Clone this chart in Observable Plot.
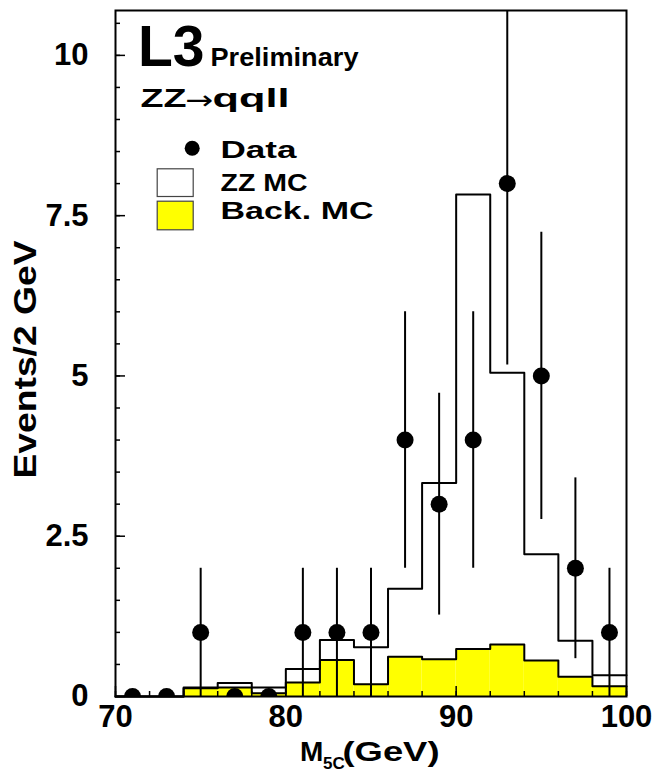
<!DOCTYPE html>
<html><head><meta charset="utf-8">
<script src="https://cdn.jsdelivr.net/npm/d3@7"></script>
<script src="https://cdn.jsdelivr.net/npm/@observablehq/plot@0.6"></script>
<style>body{margin:0;background:#fff} svg{display:block}</style>
</head><body><div id="chart"></div>
<script>
// ---- data ----
const binEdges   = [70,72,74,76,78,80,82,84,86,88,90,92,94,96,98,100];
const binCenters = [71,73,75,77,79,81,83,85,87,89,91,93,95,97,99];
const dataCounts = [0,0,1,0,0,1,1,1,4,3,4,8,5,2,1];
const dataErrors = [0,0,1,0,0,1,1,1,2,1.73,2,2.83,2.24,1.41,1];
const zzMC       = [0,0,0.14,0.21,0.14,0.43,0.88,0.77,1.68,3.33,7.83,5.05,2.22,0.87,0.33];
const backMC     = [0,0,0.13,0.14,0.05,0.22,0.57,0.19,0.62,0.58,0.74,0.81,0.56,0.31,0.16];
const xMajorTicks = [70,80,90,100];
const xMinorTicks = [70,72,74,76,78,80,82,84,86,88,90,92,94,96,98,100];
const yMajorTicks = [0,2.5,5,7.5,10];
const yTickLabels = ["0","2.5","5","7.5","10"];
const yMinorTicks = [0,0.5,1,1.5,2,2.5,3,3.5,4,4.5,5,5.5,6,6.5,7,7.5,8,8.5,9,9.5,10,10.5];

const font = "'Liberation Sans', Arial, Helvetica, sans-serif";

const bins = binCenters.map((c, i) => ({x1: binEdges[i], x2: binEdges[i + 1], back: backMC[i]}));
const stepPts = vals => binEdges.map((e, i) => ({x: e, y: vals[Math.min(i, vals.length - 1)]}));
const points = binCenters.map((c, i) => ({x: c, n: dataCounts[i], err: dataErrors[i]}));

const T = (s, o) => Plot.text([s], {frameAnchor: "top-left", textAnchor: "start", lineAnchor: "bottom",
  fontWeight: "bold", fill: "black", ...o});

const chart = Plot.plot({
  width: 655, height: 771,
  marginLeft: 115, marginRight: 29, marginTop: 10, marginBottom: 75,
  x: {domain: [70, 100], label: null},
  y: {domain: [0, 10.7], label: null},
  style: {fontFamily: font, background: "white", color: "black"},
  marks: [
    Plot.rect(bins, {x1: "x1", x2: "x2", y1: 0, y2: "back", fill: "#ffff00"}),
    Plot.lineY(stepPts(backMC), {x: "x", y: "y", curve: "step-after", stroke: "black", strokeWidth: 2}),
    Plot.lineY(stepPts(zzMC), {x: "x", y: "y", curve: "step-after", stroke: "black", strokeWidth: 2}),
    Plot.ruleX(points.filter(d => d.err > 0), {x: "x", y1: d => d.n - d.err, y2: d => d.n + d.err,
      stroke: "black", strokeWidth: 2, clip: true}),
    Plot.dot(points, {x: "x", y: "n", r: 8.5, fill: "black", clip: true}),
    // axes: inward ticks
    Plot.axisY(yMinorTicks, {anchor: "left", tickSize: -5, fill: null, label: null, strokeWidth: 1.5}),
    Plot.axisY(yMajorTicks, {anchor: "left", tickSize: -10, fill: null, label: null, strokeWidth: 1.5}),
    Plot.axisY(yMajorTicks, {anchor: "left", tickSize: 0, tickPadding: 27, label: null,
      tickFormat: d => yTickLabels[yMajorTicks.indexOf(d)], fontSize: 31, fontWeight: "bold"}),
    Plot.axisX(xMinorTicks, {anchor: "bottom", tickSize: -5, fill: null, label: null, strokeWidth: 1.5}),
    Plot.axisX(xMajorTicks, {anchor: "bottom", tickSize: -10, fill: null, label: null, strokeWidth: 1.5}),
    Plot.axisX(xMajorTicks, {anchor: "bottom", tickSize: 0, tickPadding: 8, label: null,
      tickFormat: d => String(d), fontSize: 31, fontWeight: "bold"}),
    Plot.frame({stroke: "black", strokeWidth: 2}),
    // annotations
    T("L3", {dx: 22.5, dy: 55, fontSize: 57}),
    T("Preliminary", {dx: 95, dy: 55, fontSize: 26}),
    T("ZZ", {dx: 25, dy: 96, fontSize: 26}),
    T("\u2192", {dx: 70, dy: 98, fontSize: 26, fontWeight: "normal", fontFamily: "'DejaVu Sans', sans-serif"}),
    T("qqll", {dx: 97, dy: 96, fontSize: 26}),
    // legend
    Plot.dot([0], {frameAnchor: "top-left", dx: 76.7, dy: 137.7, r: 7.5, fill: "black"}),
    Plot.frame({insetLeft: 41.7, insetRight: 433.3, insetTop: 158.3, insetBottom: 500, fill: "white", stroke: "#444", strokeWidth: 1.2}),
    Plot.frame({insetLeft: 41.7, insetRight: 433.3, insetTop: 190.7, insetBottom: 466.7, fill: "#ffff00", stroke: "#444", strokeWidth: 1.2}),
    T("Data", {dx: 105, dy: 147, fontSize: 24}),
    T("ZZ MC", {dx: 105, dy: 180, fontSize: 24}),
    T("Back. MC", {dx: 105, dy: 208, fontSize: 24}),
    // axis titles
    T("Events/2 GeV", {dx: -80, dy: 349, rotate: -90, textAnchor: "middle", fontSize: 32}),
    T("M", {dx: 184.5, dy: 750, fontSize: 28}),
    T("5C", {dx: 207.5, dy: 758, fontSize: 17}),
    T("(GeV)", {dx: 227, dy: 750, fontSize: 28})
  ]
});

const stretch = {"Preliminary": 148, "ZZ": 46, "\u2192": 28, "qqll": 77, "Data": 76, "ZZ MC": 87, "Back. MC": 153,
  "Events/2 GeV": 238, "(GeV)": 97};
chart.querySelectorAll("text").forEach(t => {
  const w = stretch[t.textContent];
  if (w) { t.setAttribute("textLength", w); t.setAttribute("lengthAdjust", "spacingAndGlyphs"); }
});
document.getElementById("chart").append(chart);
</script>
</body></html>
